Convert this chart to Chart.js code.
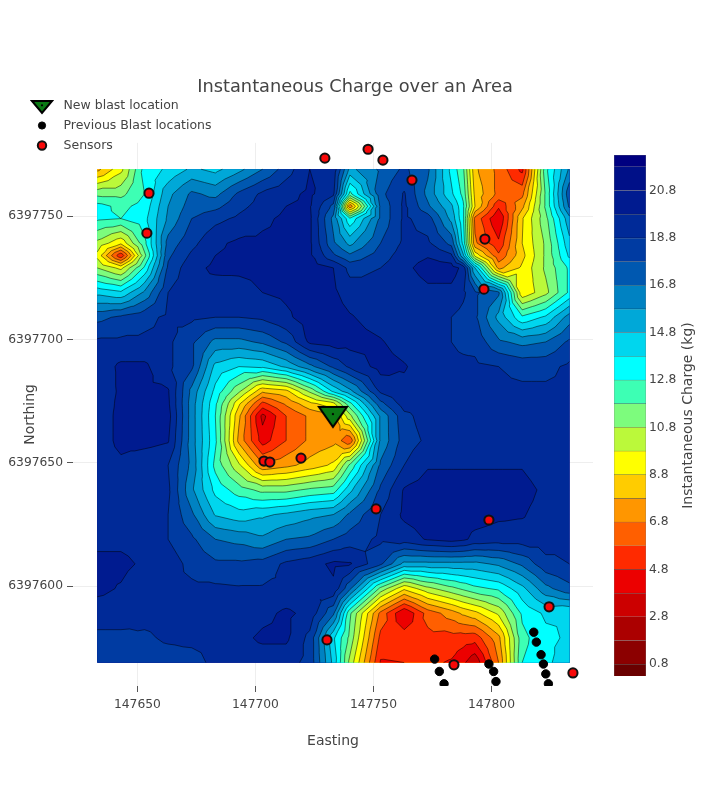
<!DOCTYPE html>
<html>
<head>
<meta charset="utf-8">
<title>Instantaneous Charge over an Area</title>
<script src="https://cdn.jsdelivr.net/npm/chart.js@4"></script>
<style>
  html, body { margin: 0; padding: 0; background: #fff; }
  #wrap { position: relative; width: 710px; height: 810px; }
  canvas { position: absolute; left: 0; top: 0; }
  #barCanvas { left: 600px; }
</style>
</head>
<body>
<div id="wrap">
  <canvas id="mapCanvas" width="710" height="810"></canvas>
  <canvas id="barCanvas" width="110" height="810"></canvas>
</div>
<script>
// contour grid
const eastingGrid = [147633, 147643, 147653, 147663, 147673, 147683, 147693, 147703, 147713, 147723, 147733, 147740, 147753, 147763, 147773, 147783, 147788, 147793, 147803, 147813, 147823, 147833];
const northingGrid = [6397769, 6397759, 6397754, 6397749, 6397739, 6397734, 6397729, 6397719, 6397709, 6397699, 6397689, 6397679, 6397674, 6397669, 6397659, 6397649, 6397639, 6397629, 6397619, 6397609, 6397599, 6397589, 6397579, 6397569];
const chargeGrid = [
  [7.5, 9.5, 13.2, 14, 15, 14.5, 15.5, 16.8, 18.3, 19.8, 19.5, 15.5, 17, 18, 17, 13.5, 12, 8, 6.5, 4.5, 12.5, 16],
  [11.5, 11.5, 12.8, 15.5, 17, 16.5, 18, 19, 19.5, 20, 19, 12.5, 17.5, 18.9, 16.5, 14, 12.5, 8.5, 6.5, 6.5, 12, 17.5],
  [13.2, 12.5, 13.2, 15.8, 17.3, 17.5, 18.5, 19.2, 19.8, 19.9, 17.5, 7, 17, 19, 17, 15, 13, 8.8, 5, 7.5, 12, 17],
  [13, 12.8, 13.5, 16, 17.8, 18.5, 19, 19.6, 20, 20, 16.5, 13, 17, 19, 18.3, 15.5, 13, 6.5, 3.8, 8.7, 11.5, 15.5],
  [10.5, 9, 12.5, 17.2, 18.5, 19.6, 20, 20, 20, 20, 17, 15.5, 17.8, 19, 19, 17.5, 13.5, 7, 5, 8.8, 11, 14.5],
  [9.5, 5, 11.5, 17.6, 19, 19.8, 20, 20, 20, 20, 18, 17, 18.3, 19.3, 19.7, 19, 15, 9.5, 6, 8.5, 11, 14],
  [10.8, 9.5, 13, 18, 19.5, 20, 20, 20, 20, 20.3, 19.8, 18.5, 18.8, 19.5, 20.3, 20.3, 19.5, 14.8, 7.5, 9, 11, 13],
  [14.5, 14, 16, 18.8, 19.5, 19.3, 19.4, 19.8, 20, 20.3, 20, 19.3, 19, 19, 19.5, 19.5, 19, 18, 17, 9, 10.5, 13],
  [17.5, 18, 18.5, 19, 19, 18.8, 18.8, 19, 19.6, 20.3, 20.3, 19.9, 19.3, 18.8, 18.8, 18.8, 18.5, 18, 15.5, 13, 14, 16.3],
  [19, 19, 19, 19, 18, 16.5, 16.5, 17, 18, 20, 20.3, 20.2, 19.9, 19.3, 18.8, 18.8, 18.6, 18.5, 17, 16.5, 16.8, 18],
  [19.2, 20, 20, 19, 18, 14.5, 13.8, 14, 15, 16.5, 18, 19, 20.2, 19.9, 19.2, 19, 19, 19, 18.8, 18.5, 18.5, 19],
  [19, 20, 20, 19.9, 16.5, 13.5, 11, 8, 8.5, 11, 14, 15.5, 19, 19.5, 19, 19, 19, 19, 19, 19, 19, 19],
  [19, 20.1, 20.1, 20, 16.3, 13, 9, 5.5, 7, 8.5, 9.5, 12.5, 17.5, 19.3, 19.2, 19.2, 19.2, 19.2, 19.2, 19.2, 19.2, 19],
  [19, 20.2, 20.2, 20.2, 16.3, 12.8, 8, 3.5, 5.8, 7, 7.5, 10.5, 16, 18.5, 19.3, 19.3, 19.3, 19.3, 19.3, 19.3, 19.3, 19],
  [19, 20.2, 20.2, 19.9, 16.3, 13, 7.5, 4.3, 5.8, 7, 7.5, 6, 16, 18.3, 19, 19, 19, 19, 19, 19, 19, 19],
  [19, 19.5, 19, 18.8, 16.5, 12.5, 10, 7, 7.5, 8.2, 9, 12, 17, 18.8, 19.7, 19.7, 19.7, 19.7, 19.7, 19.7, 19, 18.8],
  [19, 19, 19, 19, 16, 13.5, 12.3, 11.5, 11.5, 12, 12.3, 14.5, 18, 19.9, 20.3, 20.3, 20.3, 20.3, 20.3, 20.3, 19.5, 19],
  [19, 19, 19, 18.8, 17, 14.7, 14.2, 14.6, 15, 15.5, 15.8, 17, 18.8, 20, 20.3, 20.3, 20.3, 20.3, 20, 19.9, 19.3, 19],
  [19.5, 19.5, 19.3, 18.8, 18, 16.8, 16.5, 16, 16.8, 17, 17.8, 18.3, 19, 19.3, 19.9, 20.2, 20, 19.5, 19.3, 19.3, 19.3, 19],
  [20.1, 20.1, 19.6, 19.3, 18.5, 18, 18, 18.2, 19, 19.4, 20, 19.9, 18, 15.5, 15.5, 15.5, 15.5, 15.5, 16, 17, 18.5, 18.8],
  [20.1, 19.7, 19, 19, 19, 19, 18.9, 18.9, 19, 19, 19.6, 17, 11.5, 9, 10.5, 11.5, 12, 12.5, 13, 14.5, 16.5, 17.5],
  [19.2, 19.2, 19, 19, 19, 19, 19, 19.5, 20, 19.5, 17, 12, 6.5, 3.8, 6.2, 7.3, 8, 8.5, 10, 13, 14, 13.8],
  [18.6, 18.6, 18.7, 18.9, 19, 19, 19.5, 20, 20, 18.5, 14, 11.5, 5.5, 5.3, 5.5, 5.4, 5.3, 5.2, 7.5, 12.5, 13.5, 14],
  [18.5, 18.5, 18.5, 18.5, 18.5, 19, 19.2, 19.2, 19.2, 18.5, 14.5, 10.5, 4.7, 4.8, 5, 4.7, 4, 3, 6.8, 12.8, 13.5, 14.6]
];

const contourLevels = [0.8, 1.8, 2.8, 3.8, 4.8, 5.8, 6.8, 7.8, 8.8, 9.8, 10.8, 11.8, 12.8, 13.8, 14.8, 15.8, 16.8, 17.8, 18.8, 19.8, 20.8, 21.8];
const chargeMin = 0.3;
const chargeMax = 22.3;
const chargeTicks = [0.8, 2.8, 4.8, 6.8, 8.8, 10.8, 12.8, 14.8, 16.8, 18.8, 20.8];

const eastingTicks = [147650, 147700, 147750, 147800];
const northingTicks = [6397600, 6397650, 6397700, 6397750];

const newBlastE = [147732.8];
const newBlastN = [6397668.6];
const previousE = [147775.9, 147777.9, 147779.9, 147798.9, 147800.9, 147801.9, 147817.9, 147819, 147821, 147822, 147823, 147824.1];
const previousN = [6397570.4, 6397565.4, 6397560.4, 6397568.4, 6397565.4, 6397561.3, 6397581.3, 6397577.3, 6397572.2, 6397568.4, 6397564.4, 6397560.4];
const sensorE = [147654.9, 147654, 147729.4, 147747.7, 147754, 147766.3, 147797.2, 147796.8, 147703.6, 147706.1, 147719.3, 147751.1, 147798.9, 147730.3, 147784.1, 147824.4, 147834.5];
const sensorN = [6397759.3, 6397743.1, 6397773.5, 6397777.1, 6397772.7, 6397764.6, 6397740.7, 6397720.4, 6397650.7, 6397650.3, 6397651.9, 6397631.3, 6397626.8, 6397578.2, 6397568.1, 6397591.6, 6397564.8];

// one colour per band, low charge first
const bandColors = ['#6a0000', '#8c0000', '#ab0000', '#cc0000', '#ec0000', '#ff2a00', '#ff5f00', '#ff9600', '#ffcc00', '#ffff00', '#bbf93a', '#7dfc7d', '#3dffb4', '#00ffff', '#00d6ee', '#00a8d8', '#0082c2', '#0058b0', '#003ba2', '#002a98', '#001b90', '#001088', '#000080'];

const fontName = '"DejaVu Sans", Verdana, sans-serif';
const textColor = '#444';

function toPoints(xs, ys) {
  return xs.map((x, i) => ({ x: x, y: ys[i] }));
}

// flat down triangle with a dot, plotly draws it wider than it is tall
function blastMarker(w, h, lw) {
  const c = document.createElement('canvas');
  c.width = w + lw * 2;
  c.height = h + lw * 2;
  const g = c.getContext('2d');
  g.beginPath();
  g.moveTo(lw, lw);
  g.lineTo(lw + w, lw);
  g.lineTo(lw + w / 2, lw + h);
  g.closePath();
  g.fillStyle = '#0a7a14';
  g.strokeStyle = '#000';
  g.lineWidth = lw;
  g.lineJoin = 'miter';
  g.fill();
  g.stroke();
  g.fillStyle = '#000';
  g.beginPath();
  g.arc(lw + w / 2, lw + h * 0.36, 1.1, 0, Math.PI * 2);
  g.fill();
  return c;
}

// cut a triangle down to the part below the level
function clipBelow(tri, level) {
  let out = [];
  for (let i = 0; i < tri.length; i++) {
    let a = tri[i], b = tri[(i + 1) % tri.length];
    if (a.v < level) out.push(a);
    if ((a.v < level) !== (b.v < level)) {
      let t = (level - a.v) / (b.v - a.v);
      out.push({ x: a.x + (b.x - a.x) * t, y: a.y + (b.y - a.y) * t, v: level, cut: true });
    }
  }
  return out;
}

function buildTriangles(xScale, yScale) {
  let tris = [];
  for (let j = 0; j < northingGrid.length - 1; j++) {
    for (let i = 0; i < eastingGrid.length - 1; i++) {
      let x0 = xScale.getPixelForValue(eastingGrid[i]), x1 = xScale.getPixelForValue(eastingGrid[i + 1]);
      let y0 = yScale.getPixelForValue(northingGrid[j]), y1 = yScale.getPixelForValue(northingGrid[j + 1]);
      let a = { x: x0, y: y0, v: chargeGrid[j][i] };
      let b = { x: x1, y: y0, v: chargeGrid[j][i + 1] };
      let c = { x: x1, y: y1, v: chargeGrid[j + 1][i + 1] };
      let d = { x: x0, y: y1, v: chargeGrid[j + 1][i] };
      let m = { x: (x0 + x1) / 2, y: (y0 + y1) / 2, v: (a.v + b.v + c.v + d.v) / 4 };
      tris.push([a, b, m], [b, c, m], [c, d, m], [d, a, m]);
    }
  }
  return tris;
}

const contourPlugin = {
  id: 'contour',
  beforeDatasetsDraw(chart) {
    const ctx = chart.ctx;
    const xs = chart.scales.x, ys = chart.scales.y;
    const tris = buildTriangles(xs, ys);
    const left = xs.getPixelForValue(eastingGrid[0]);
    const right = xs.getPixelForValue(eastingGrid[eastingGrid.length - 1]);
    const top = ys.getPixelForValue(northingGrid[0]);
    const bottom = ys.getPixelForValue(northingGrid[northingGrid.length - 1]);
    ctx.save();
    ctx.fillStyle = bandColors[bandColors.length - 1];
    ctx.fillRect(left, top, right - left, bottom - top);
    for (let k = contourLevels.length - 1; k >= 0; k--) {
      ctx.beginPath();
      tris.forEach(t => {
        let p = clipBelow(t, contourLevels[k]);
        if (p.length < 3) return;
        ctx.moveTo(p[0].x, p[0].y);
        for (let i = 1; i < p.length; i++) ctx.lineTo(p[i].x, p[i].y);
        ctx.closePath();
      });
      ctx.fillStyle = bandColors[k];
      ctx.fill();
    }
    ctx.beginPath();
    contourLevels.forEach(level => {
      tris.forEach(t => {
        let p = clipBelow(t, level).filter(q => q.cut);
        if (p.length === 2) {
          ctx.moveTo(p[0].x, p[0].y);
          ctx.lineTo(p[1].x, p[1].y);
        }
      });
    });
    ctx.strokeStyle = 'rgba(0,0,0,0.7)';
    ctx.lineWidth = 0.7;
    ctx.stroke();
    ctx.restore();
  },
  afterDraw(chart) {
    // vertical legend in the top left corner
    const ctx = chart.ctx;
    const rows = [105.5, 125.5, 145.5];
    const legendRadius = [0, 3.6, 4.2];
    ctx.save();
    ctx.font = '12.5px ' + fontName;
    ctx.textBaseline = 'middle';
    chart.data.datasets.forEach((ds, i) => {
      if (i === 0) {
        ctx.drawImage(blastMarker(20, 12, 2), 30, 99);
      } else {
        ctx.fillStyle = ds.pointBackgroundColor;
        ctx.strokeStyle = ds.pointBorderColor;
        ctx.lineWidth = ds.pointBorderWidth;
        Chart.helpers.drawPoint(ctx, { pointStyle: 'circle', rotation: 0, radius: legendRadius[i], borderWidth: ds.pointBorderWidth }, 42, rows[i]);
      }
      ctx.fillStyle = textColor;
      ctx.fillText(ds.label, 63.5, rows[i]);
    });
    ctx.restore();
  }
};

new Chart(document.getElementById('mapCanvas'), {
  type: 'scatter',
  plugins: [contourPlugin],
  data: {
    datasets: [
      { label: 'New blast location', data: toPoints(newBlastE, newBlastN), pointStyle: blastMarker(28, 20, 2), pointRadius: 16, pointBackgroundColor: '#0a7a14', pointBorderColor: '#000', pointBorderWidth: 2, order: 0 },
      { label: 'Previous Blast locations', data: toPoints(previousE, previousN), pointStyle: 'circle', pointRadius: 4.2, pointBackgroundColor: '#000', pointBorderColor: '#000', pointBorderWidth: 1, order: 2 },
      { label: 'Sensors', data: toPoints(sensorE, sensorN), pointStyle: 'circle', pointRadius: 4.6, pointBackgroundColor: '#f80808', pointBorderColor: '#111', pointBorderWidth: 2, order: 1 }
    ]
  },
  options: {
    responsive: false,
    animation: false,
    layout: { padding: 0 },
    plugins: {
      legend: { display: false },
      tooltip: { enabled: false },
      title: {
        display: true,
        text: 'Instantaneous Charge over an Area',
        color: textColor,
        font: { family: fontName, size: 17.8, weight: 'normal', lineHeight: 1.2 },
        padding: { top: 76.5, bottom: 45 }
      }
    },
    scales: {
      x: {
        type: 'linear',
        min: 147622.7,
        max: 147843,
        afterBuildTicks: s => { s.ticks = eastingTicks.map(v => ({ value: v })); },
        afterFit: s => { s.height = 124; },
        ticks: { color: textColor, font: { family: fontName, size: 12.3 }, padding: 5, maxRotation: 0, callback: v => String(v) },
        grid: { color: '#eee', tickColor: '#555', tickLength: 6 },
        border: { display: false },
        title: { display: true, text: 'Easting', color: textColor, font: { family: fontName, size: 14 }, padding: { top: 18, bottom: 60 } }
      },
      y: {
        type: 'linear',
        min: 6397559.5,
        max: 6397779.7,
        afterBuildTicks: s => { s.ticks = northingTicks.map(v => ({ value: v })); },
        afterFit: s => { s.width = 73; },
        ticks: { color: textColor, font: { family: fontName, size: 12.3 }, padding: 4, callback: v => String(v) },
        grid: { color: '#eee', tickColor: '#555', tickLength: 6 },
        border: { display: false },
        title: { display: true, text: 'Northing', color: textColor, font: { family: fontName, size: 14 }, padding: { top: 22, bottom: 0 } }
      },
      gutter: {
        type: 'linear',
        axis: 'y',
        position: 'right',
        afterFit: s => { s.width = 117; },
        ticks: { display: false },
        grid: { display: false },
        border: { display: false }
      }
    }
  }
});

// colour bar, one floating bar per band
const bandEdges = [chargeMin].concat(contourLevels, [chargeMax]);

const barTitlePlugin = {
  id: 'barTitle',
  afterDraw(chart) {
    const ctx = chart.ctx;
    ctx.save();
    ctx.translate(88, (chart.chartArea.top + chart.chartArea.bottom) / 2);
    ctx.rotate(-Math.PI / 2);
    ctx.font = '14px ' + fontName;
    ctx.fillStyle = textColor;
    ctx.textAlign = 'center';
    ctx.textBaseline = 'middle';
    ctx.fillText('Instantaneous Charge (kg)', 0, 0);
    ctx.restore();
  }
};

new Chart(document.getElementById('barCanvas'), {
  type: 'bar',
  plugins: [barTitlePlugin],
  data: {
    labels: ['charge'],
    datasets: bandColors.map((c, i) => ({
      data: [[bandEdges[i], bandEdges[i + 1]]],
      backgroundColor: c,
      borderColor: 'rgba(0,0,0,0.55)',
      borderWidth: 0.6,
      barPercentage: 1,
      categoryPercentage: 1,
      grouped: false
    }))
  },
  options: {
    responsive: false,
    animation: false,
    layout: { padding: { left: 14, top: 155, bottom: 134 } },
    plugins: { legend: { display: false }, tooltip: { enabled: false } },
    scales: {
      x: { display: false },
      y: {
        position: 'right',
        min: chargeMin,
        max: chargeMax,
        afterBuildTicks: s => { s.ticks = chargeTicks.map(v => ({ value: v })); },
        afterFit: s => { s.width = 64; },
        ticks: { color: textColor, font: { family: fontName, size: 12.3 }, padding: 3, callback: v => v.toFixed(1) },
        grid: { display: false, drawTicks: false },
        border: { display: false }
      }
    }
  }
});
</script>
</body>
</html>
